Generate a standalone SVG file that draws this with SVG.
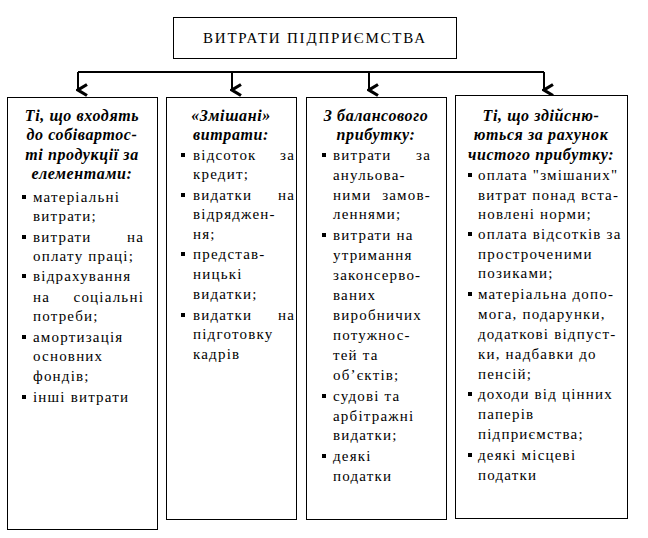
<svg xmlns="http://www.w3.org/2000/svg" width="648" height="538" viewBox="0 0 648 538">
<style>
.box{fill:#fff;stroke:#000;stroke-width:1}
.t{font-family:"Liberation Serif","Times New Roman",serif;font-size:15px;fill:#000;letter-spacing:1.2px}
.e{text-anchor:end;letter-spacing:1.2px}
.h{font-family:"Liberation Serif","Times New Roman",serif;font-size:16px;font-weight:bold;font-style:italic;fill:#000;text-anchor:middle;letter-spacing:0.6px}
.title{font-family:"Liberation Serif","Times New Roman",serif;font-size:15px;fill:#000}
.b{fill:#000}
.conn{fill:none;stroke:#000;stroke-width:2}
</style>
<defs>
<marker id="ah" markerWidth="14" markerHeight="14" viewBox="0 0 14 14" refX="7" refY="12" orient="auto-start-reverse" markerUnits="userSpaceOnUse">
<path d="M1.5,3 L7,12 L12.5,3" fill="none" stroke="#000" stroke-width="3.2"/>
</marker>
</defs>
<g id="connectors">
<path class="conn" d="M78,72 H544"/>
<path class="conn" stroke-width="2.5" d="M78,72 V90" marker-end="url(#ah)"/>
<path class="conn" stroke-width="2.5" d="M232,72 V90" marker-end="url(#ah)"/>
<path class="conn" stroke-width="2.5" d="M369,72 V90" marker-end="url(#ah)"/>
<path class="conn" stroke-width="2.5" d="M544,72 V90" marker-end="url(#ah)"/>
</g>
<g id="top">
<rect class="box" x="173.5" y="17.5" width="283" height="41"/>
<text class="title" x="203" y="43" textLength="222" lengthAdjust="spacing">ВИТРАТИ ПІДПРИЄМСТВА</text>
</g>
<g id="col1">
<rect class="box" x="7.5" y="97.5" width="150" height="432"/>
<text class="h" x="82" y="121">Ті, що входять</text>
<text class="h" x="82" y="140">до собівартос-</text>
<text class="h" x="82" y="160">ті продукції за</text>
<text class="h" x="82" y="179">елементами:</text>
<rect class="b" x="22" y="195" width="4" height="4"/>
<text class="t" x="33" y="202">матеріальні</text>
<text class="t" x="33" y="221">витрати;</text>
<rect class="b" x="22" y="235" width="4" height="4"/>
<text class="t" x="33" y="242">витрати</text>
<text class="t e" x="144" y="242">на</text>
<text class="t" x="33" y="261">оплату праці;</text>
<rect class="b" x="22" y="274" width="4" height="4"/>
<text class="t" x="33" y="281">відрахування</text>
<text class="t" x="33" y="302">на</text>
<text class="t e" x="144" y="302">соціальні</text>
<text class="t" x="33" y="321">потреби;</text>
<rect class="b" x="22" y="335" width="4" height="4"/>
<text class="t" x="33" y="342">амортизація</text>
<text class="t" x="33" y="361">основних</text>
<text class="t" x="33" y="381">фондів;</text>
<rect class="b" x="22" y="395" width="4" height="4"/>
<text class="t" x="33" y="402">інші витрати</text>
</g>
<g id="col2">
<rect class="box" x="166.5" y="97.5" width="130" height="422"/>
<text class="h" x="231" y="121">«Змішані»</text>
<text class="h" x="231" y="140">витрати:</text>
<rect class="b" x="181" y="153" width="4" height="4"/>
<text class="t" x="193" y="160">відсоток</text>
<text class="t e" x="295" y="160">за</text>
<text class="t" x="193" y="179">кредит;</text>
<rect class="b" x="181" y="193" width="4" height="4"/>
<text class="t" x="193" y="200">видатки</text>
<text class="t e" x="295" y="200">на</text>
<text class="t" x="193" y="219">відряджен-</text>
<text class="t" x="193" y="239">ня;</text>
<rect class="b" x="181" y="252" width="4" height="4"/>
<text class="t" x="193" y="259">представ-</text>
<text class="t" x="193" y="279">ницькі</text>
<text class="t" x="193" y="299">видатки;</text>
<rect class="b" x="181" y="313" width="4" height="4"/>
<text class="t" x="193" y="320">видатки</text>
<text class="t e" x="295" y="320">на</text>
<text class="t" x="193" y="339">підготовку</text>
<text class="t" x="193" y="359">кадрів</text>
</g>
<g id="col3">
<rect class="box" x="306.5" y="97.5" width="140" height="422"/>
<text class="h" x="376" y="121">З балансового</text>
<text class="h" x="376" y="140">прибутку:</text>
<rect class="b" x="322" y="153" width="4" height="4"/>
<text class="t" x="333" y="160">витрати</text>
<text class="t e" x="431" y="160">за</text>
<text class="t" x="333" y="180">анульова-</text>
<text class="t" x="333" y="200">ними</text>
<text class="t e" x="431" y="200">замов-</text>
<text class="t" x="333" y="219">леннями;</text>
<rect class="b" x="322" y="233" width="4" height="4"/>
<text class="t" x="333" y="240">витрати на</text>
<text class="t" x="333" y="260">утримання</text>
<text class="t" x="333" y="280">законсерво-</text>
<text class="t" x="333" y="300">ваних</text>
<text class="t" x="333" y="320">виробничих</text>
<text class="t" x="333" y="340">потужнос-</text>
<text class="t" x="333" y="360">тей та</text>
<text class="t" x="333" y="380">об’єктів;</text>
<rect class="b" x="322" y="394" width="4" height="4"/>
<text class="t" x="333" y="401">судові та</text>
<text class="t" x="333" y="421">арбітражні</text>
<text class="t" x="333" y="440">видатки;</text>
<rect class="b" x="322" y="454" width="4" height="4"/>
<text class="t" x="333" y="461">деякі</text>
<text class="t" x="333" y="481">податки</text>
</g>
<g id="col4">
<rect class="box" x="455.5" y="95.5" width="172" height="423"/>
<text class="h" x="541" y="121">Ті, що здійсню-</text>
<text class="h" x="541" y="140">ються за рахунок</text>
<text class="h" x="541" y="160">чистого прибутку:</text>
<rect class="b" x="468" y="173" width="4" height="4"/>
<text class="t" x="478" y="180">оплата "змішаних"</text>
<text class="t" x="478" y="200">витрат понад вста-</text>
<text class="t" x="478" y="219">новлені норми;</text>
<rect class="b" x="468" y="232" width="4" height="4"/>
<text class="t" x="478" y="239">оплата відсотків за</text>
<text class="t" x="478" y="259">простроченими</text>
<text class="t" x="478" y="278">позиками;</text>
<rect class="b" x="468" y="292" width="4" height="4"/>
<text class="t" x="478" y="299">матеріальна допо-</text>
<text class="t" x="478" y="319">мога, подарунки,</text>
<text class="t" x="478" y="339">додаткові відпуст-</text>
<text class="t" x="478" y="359">ки, надбавки до</text>
<text class="t" x="478" y="379">пенсій;</text>
<rect class="b" x="468" y="392" width="4" height="4"/>
<text class="t" x="478" y="399">доходи від цінних</text>
<text class="t" x="478" y="419">паперів</text>
<text class="t" x="478" y="439">підприємства;</text>
<rect class="b" x="468" y="453" width="4" height="4"/>
<text class="t" x="478" y="460">деякі місцеві</text>
<text class="t" x="478" y="480">податки</text>
</g>
</svg>
